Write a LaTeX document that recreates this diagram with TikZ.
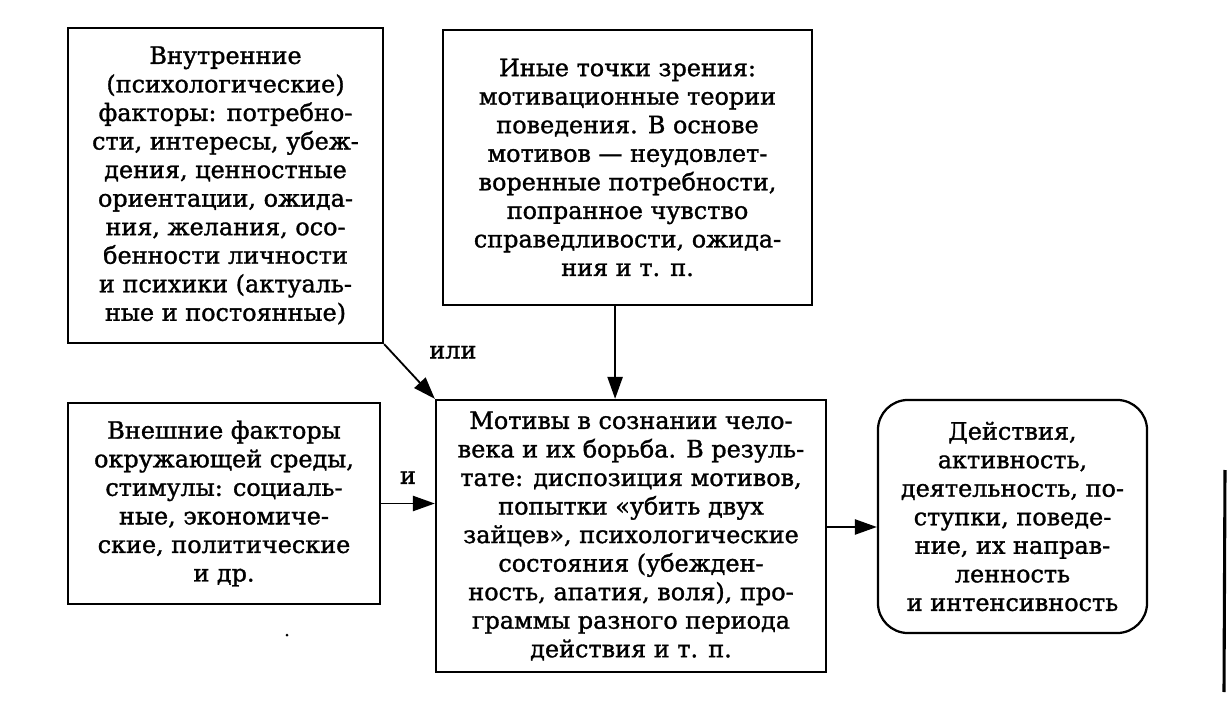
\documentclass[tikz,border=0pt]{standalone}
\usepackage{fontspec}
\setmainfont{DejaVu Serif}[BoldFont={DejaVu Serif}, BoldFeatures={FakeBold=1.3}]
\usetikzlibrary{arrows.meta}
\begin{document}
\begin{tikzpicture}[x=0.025cm, y=-0.025cm,
        box/.style={draw, line width=1.6pt, align=center, inner sep=0pt,
            font=\fontsize{17}{20.3}\selectfont\bfseries},
        arr/.style={line width=1.3pt, -{Triangle[length=0.55cm, width=0.38cm]}},
        lbl/.style={font=\fontsize{17}{20.3}\selectfont\bfseries}]
        \useasboundingbox (0,0) rectangle (1232,702);
        \node[box, minimum width=7.875cm, minimum height=7.875cm] (inner) at (225.5,185.5)
            {Внутренние\\(психологические)\\факторы: потребно-\\сти, интересы, убеж-\\дения, ценностные\\ориентации, ожида-\\ния, желания, осо-\\бенности личности\\и психики (актуаль-\\ные и постоянные)};
        \node[box, minimum width=9.225cm, minimum height=6.875cm] (views) at (627.5,167.5)
            {Иные точки зрения:\\мотивационные теории\\поведения. В основе\\мотивов — неудовлет-\\воренные потребности,\\попранное чувство\\справедливости, ожида-\\ния и т. п.};
        \node[box, minimum width=7.8cm, minimum height=5.025cm] (outer) at (224,503.5)
            {Внешние факторы\\окружающей среды,\\стимулы: социаль-\\ные, экономиче-\\ские, политические\\и др.};
        \node[box, minimum width=9.75cm, minimum height=6.8cm] (motive) at (631,536)
            {Мотивы в сознании чело-\\века и их борьба. В резуль-\\тате: диспозиция мотивов,\\попытки «убить двух\\зайцев», психологические\\состояния (убежден-\\ность, апатия, воля), про-\\граммы разного периода\\действия и т. п.};
        \node[box, rounded corners=0.75cm, minimum width=6.725cm, minimum height=5.825cm] (action) at (1012.5,516.5)
            {Действия,\\активность,\\деятельность, по-\\ступки, поведе-\\ние, их направ-\\ленность\\и интенсивность};
        \draw[arr] (inner.south east) -- (motive.north west)
            node[lbl, pos=0.15, right=0.8cm] {или};
        \draw[arr] ([xshift=-0.31cm]views.south) -- ([xshift=-0.31cm]views.south |- motive.north);
        \draw[arr] (outer.east) -- (outer.east -| motive.west)
            node[lbl, midway, above=0.35cm] {и};
        \draw[arr] ([yshift=0.225cm]motive.east) -- ([yshift=0.225cm]motive.east -| action.west);
        % scan marks
        \draw[line width=2.2pt] (1225,470) -- (1224,692);
        \fill (287,635) circle (1.5);
    \end{tikzpicture}
\end{document}
